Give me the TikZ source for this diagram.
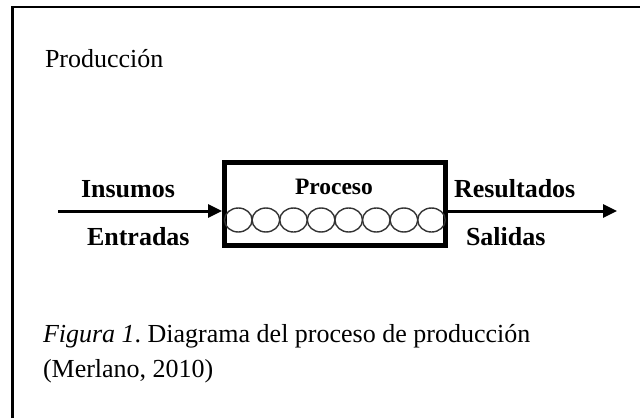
\documentclass[tikz,border=0pt]{standalone}
\usepackage{fontspec}
\setmainfont{Liberation Serif}
\usetikzlibrary{arrows.meta,shapes.geometric}
\frenchspacing
\tikzset{
  txt/.style={inner sep=0pt, outer sep=0pt, anchor=base west, font=\fontsize{26}{30}\selectfont},
  lbl/.style={inner sep=0pt, outer sep=0pt, anchor=base west, font=\fontsize{26}{30}\selectfont\bfseries},
  flow/.style={line width=3pt, -{Triangle[length=14pt,width=13pt]}},
  procbox/.style={draw, line width=5pt, minimum width=221pt, minimum height=83pt, inner sep=0pt},
  roll/.style={draw=black!80, line width=1.4pt, ellipse, minimum width=27.6pt, minimum height=24pt, inner sep=0pt, outer sep=0pt},
  frame/.style={line width=2.2pt}
}
\begin{document}
\begin{tikzpicture}[x=1pt,y=-1pt]
\useasboundingbox (0,0) rectangle (640,418);
% frame
\coordinate (fb) at (12.5,418);
\coordinate (fc) at (12.5,7);
\coordinate (fr) at (640,7);
\draw[frame] (fb) -- (fc) -- (fr);
% title
\node[txt] (title) at (45,67) {Producción};
% process box
\node[procbox] (box) at (335,204) {};
\foreach \i in {1,...,8} {
  \node[roll] (c\i) at ({224.5+13.8+27.6*(\i-1)},220) {};
}
\node[lbl, font=\fontsize{23.5}{26}\selectfont\bfseries] (proc) at (295,194) {Proceso};
% arrows
\coordinate (inL) at (58,211);
\coordinate (outR) at (617,211);
\draw[flow] (inL) -- (inL -| box.west);
\draw[flow] (outR -| box.east) -- (outR);
% labels
\node[lbl] (ins) at (81,197) {Insumos};
\node[lbl] (ent) at (87,245) {Entradas};
\node[lbl] (res) at (454,197) {Resultados};
\node[lbl] (sal) at (466,245) {Salidas};
% caption
\node[txt] (cap1) at (43,342) {{\itshape Figura 1}. Diagrama del proceso de producción};
\node[txt] (cap2) at (43,377) {(Merlano, 2010)};
\end{tikzpicture}
\end{document}
